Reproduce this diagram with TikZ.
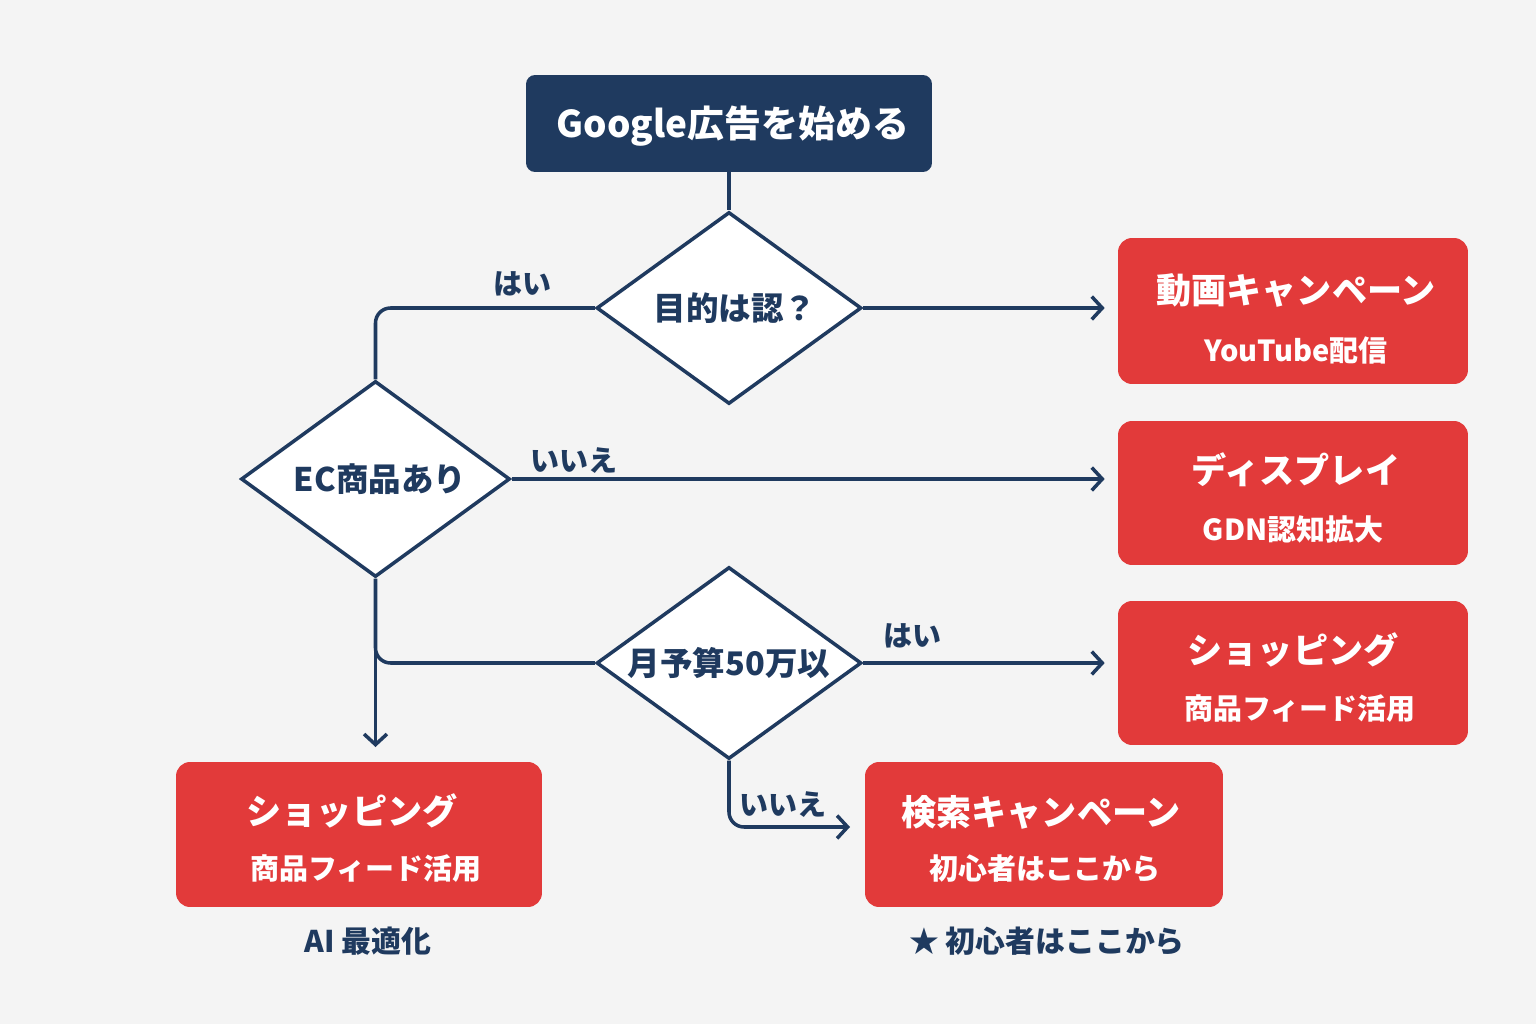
\documentclass[tikz,border=0pt]{standalone}
\usepackage{fontspec}
\setmainfont{Noto Sans CJK JP}
\usetikzlibrary{shapes.geometric,arrows.meta,calc}
\definecolor{navy}{HTML}{1F3A5F}
\definecolor{cred}{HTML}{E23A3A}
\definecolor{bg}{HTML}{F4F4F4}
\tikzset{
  dia/.style={shape=diamond,draw=navy,fill=white,line width=2pt,inner sep=0pt,aspect=1.38},
  dtext/.style={text=navy,font=\bfseries\fontsize{18.5}{20}\selectfont,inner sep=0pt},
  rbox/.style={fill=cred,draw=none,rounded corners=0.28cm},
  rtitle/.style={text=white,font=\bfseries\fontsize{20}{22}\selectfont,inner sep=0pt},
  rsub/.style={text=white,font=\bfseries\fontsize{16.5}{18}\selectfont,inner sep=0pt},
  conn/.style={draw=navy,line width=2pt},
  arr/.style={conn,-{Straight Barb[length=6pt,width=13pt,line width=2pt]}},
  lab/.style={text=navy,font=\bfseries\fontsize{16.5}{18}\selectfont,inner sep=0pt},
  foot/.style={text=navy,font=\bfseries\fontsize{17}{19}\selectfont,inner sep=0pt},
}
\begin{document}
\begin{tikzpicture}[x=0.02cm,y=-0.02cm]
\useasboundingbox[fill=bg] (0,0) rectangle (1536,1024);
% start box
\node[fill=navy,rounded corners=0.18cm,minimum width=8.12cm,minimum height=1.94cm,inner sep=0pt] (top) at (729,123.5) {};
\node[text=white,font=\bfseries\fontsize{21}{23}\selectfont,inner sep=0pt] (toptext) at (733,126) {Google広告を始める};
% diamonds
\node[dia,minimum width=5.3cm,minimum height=3.84cm] (d1) at (729,308) {};
\node[dtext] (d1t) at (735,308) {目的は認？};
\node[dia,minimum width=5.38cm,minimum height=3.92cm] (d2) at (375.5,479) {};
\node[dtext] (d2t) at (380,479) {EC商品あり};
\node[dia,minimum width=5.3cm,minimum height=3.84cm] (d3) at (729,663) {};
\node[dtext] (d3t) at (729,663) {月予算50万以};
% result boxes
\node[rbox,minimum width=7cm,minimum height=2.92cm] (b1) at (1293,311) {};
\node[rtitle] (b1t) at (1296,290) {動画キャンペーン};
\node[rsub] (b1s) at (1296,350) {YouTube配信};
\node[rbox,minimum width=7cm,minimum height=2.88cm] (b2) at (1293,493) {};
\node[rtitle] (b2t) at (1296,470) {ディスプレイ};
\node[rsub] (b2s) at (1293,529) {GDN認知拡大};
\node[rbox,minimum width=7cm,minimum height=2.88cm] (b3) at (1293,673) {};
\node[rtitle] (b3t) at (1293,650) {ショッピング};
\node[rsub] (b3s) at (1300,709) {商品フィード活用};
\node[rbox,minimum width=7.32cm,minimum height=2.9cm] (b4) at (359,834.5) {};
\node[rtitle] (b4t) at (352,811) {ショッピング};
\node[rsub] (b4s) at (366,869) {商品フィード活用};
\node[rbox,minimum width=7.16cm,minimum height=2.9cm] (b5) at (1044,834.5) {};
\node[rtitle] (b5t) at (1041,812) {検索キャンペーン};
\node[rsub] (b5s) at (1045,869) {初心者はここから};
% footnotes
\node[foot] (f1) at (368,941) {AI 最適化};
\node[foot] (f2) at (1047,941) {★ 初心者はここから};
% connectors
\draw[conn] (top.south) -- (d1.north);
\draw[conn,rounded corners=0.3cm] (d1.west) -| (d2.north);
\draw[arr,shorten >=0.26cm] (d1.east) -- (d1.east -| b1.west);
\draw[arr,shorten >=0.26cm] (d2.east) -- (d2.east -| b2.west);
\draw[arr,shorten >=0.26cm] (d3.east) -- (d3.east -| b3.west);
\coordinate (c4) at (375.5,747);
\draw[arr] (d2.south) -- (c4);
\draw[conn,rounded corners=0.3cm] (d2.south) |- (d3.west);
\coordinate (c5) at (850,827);
\draw[arr,rounded corners=0.3cm] (d3.south) |- (c5);
% labels
\node[lab] (l1) at (522,284) {はい};
\node[lab] (l2) at (574,461) {いいえ};
\node[lab] (l3) at (912,636) {はい};
\node[lab] (l4) at (783,805) {いいえ};
\end{tikzpicture}
\end{document}
